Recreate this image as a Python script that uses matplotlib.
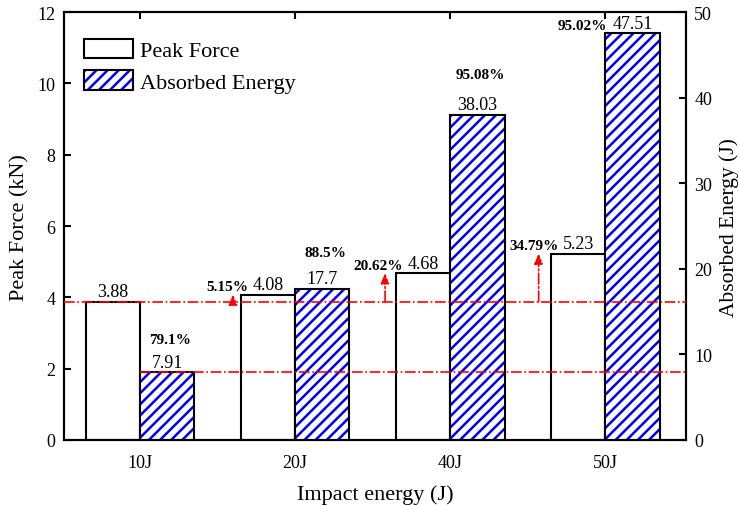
import numpy as np
import matplotlib
matplotlib.use('Agg')
import matplotlib.pyplot as plt

plt.rcParams['font.family'] = ['Liberation Serif', 'DejaVu Serif']
plt.rcParams['hatch.linewidth'] = 1.8

# data
categories = ['10J', '20J', '40J', '50J']
peak_force = [3.88, 4.08, 4.68, 5.23]          # kN
absorbed_energy = [7.91, 17.7, 38.03, 47.51]   # J
force_increase = ['', '5.15%', '20.62%', '34.79%']
energy_ratio = ['79.1%', '88.5%', '95.08%', '95.02%']

fig = plt.figure(figsize=(7.4, 5.06), dpi=100)
ax1 = fig.add_axes([0.0865, 0.1285, 0.8405, 0.8455])
ax2 = ax1.twinx()

x = np.arange(len(categories))
w = 0.35

pf_bars = ax1.bar(x - w / 2, peak_force, w, color='white', edgecolor='black', linewidth=1.5)
en_hatch = ax2.bar(x + w / 2, absorbed_energy, w, color='white', edgecolor='blue',
                   hatch='///', linewidth=0)
en_edge = ax2.bar(x + w / 2, absorbed_energy, w, fill=False, edgecolor='black', linewidth=1.5)

ax1.set_xlim(-0.49, 3.52)
ax1.set_ylim(0, 12)
ax2.set_ylim(0, 50)
ax1.set_yticks(np.arange(0, 13, 2))
ax2.set_yticks(np.arange(0, 51, 10))
ax1.set_xticks(x)
ax1.set_xticklabels(categories)

for a in (ax1, ax2):
    for s in a.spines.values():
        s.set_linewidth(1.5)
ax1.tick_params(direction='in', length=5, width=1.5, labelsize=13, top=True, right=False, pad=6)
ax1.tick_params(axis='x', pad=10)
ax2.tick_params(direction='in', length=5, width=1.5, labelsize=13, pad=6)

ax1.set_ylabel('Peak Force (kN)', fontsize=16, labelpad=6)
ax2.set_ylabel('Absorbed Energy (J)', fontsize=15.5, labelpad=5)
ax1.set_xlabel('Impact energy (J)', fontsize=16, labelpad=10)

# reference lines
ax2.plot([-0.49, 3.52], [peak_force[0]] * 2, transform=ax1.transData,
         color='red', ls='-.', lw=1.2, zorder=5)
ax2.plot([x[0], 3.52], [absorbed_energy[0]] * 2, color='red', ls='-.', lw=1.2, zorder=5)

# arrows from the 10J peak force level
arrow_x = [0.6, 1.58, 2.57]
for ax_, top in zip(arrow_x, peak_force[1:]):
    ax2.annotate('', xy=(ax_, top), xytext=(ax_, peak_force[0]),
                 xycoords=ax1.transData, textcoords=ax1.transData,
                 arrowprops=dict(arrowstyle='-|>,head_width=0.25,head_length=0.6',
                                 color='red', ls='-.', lw=1.2, shrinkA=0, shrinkB=0),
                 zorder=6)

# value labels
pf_labels = []
for xi, v in zip(x - w / 2, peak_force):
    t = ax1.annotate(f'{v:g}', xy=(xi, v), xytext=(0, 1), textcoords='offset points',
                     ha='center', va='bottom', fontsize=13)
    pf_labels.append(t)
en_labels = []
for xi, v in zip(x + w / 2, absorbed_energy):
    t = ax2.annotate(f'{v:g}', xy=(xi, v), xytext=(0, 1), textcoords='offset points',
                     ha='center', va='bottom', fontsize=13)
    en_labels.append(t)

# percentage labels
for lab, pct in zip(pf_labels[1:], force_increase[1:]):
    ax2.annotate(pct, xy=(0, 0), xycoords=lab, xytext=(-3, 0), textcoords='offset points',
                 ha='right', va='bottom', fontsize=11, fontweight='bold')
pct_offsets = [6, 8, 11]
for lab, pct, off in zip(en_labels[:3], energy_ratio[:3], pct_offsets):
    ax2.annotate(pct, xy=(0.5, 1), xycoords=lab, xytext=(2, off), textcoords='offset points',
                 ha='center', va='bottom', fontsize=11, fontweight='bold')
ax2.annotate(energy_ratio[3], xy=(0, 0), xycoords=en_labels[3], xytext=(-4, 0),
             textcoords='offset points', ha='right', va='bottom', fontsize=11, fontweight='bold')

leg = ax2.legend([pf_bars[0], (en_hatch[0], en_edge[0])], ['Peak Force', 'Absorbed Energy'],
                 loc='upper left', frameon=False, fontsize=16, handlelength=2.2,
                 handleheight=1.0, labelspacing=0.4, handletextpad=0.3,
                 borderaxespad=0.5, bbox_to_anchor=(0.0, 0.985))

fig.savefig('out.png', dpi=100)
